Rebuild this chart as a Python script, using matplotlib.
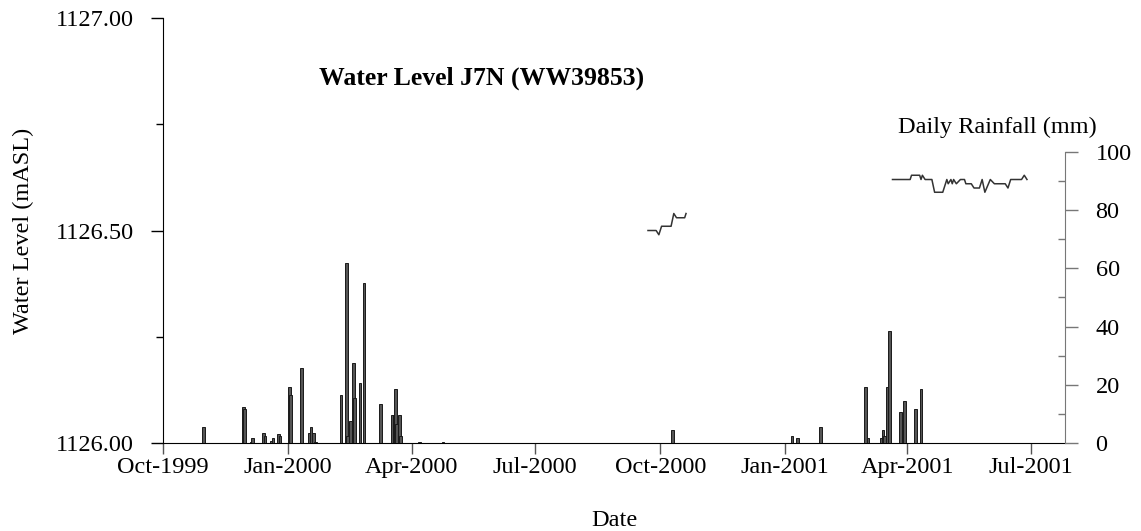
import pandas as pd
import matplotlib
matplotlib.use("Agg")
import matplotlib.pyplot as plt
import matplotlib.dates as mdates
from matplotlib.ticker import MultipleLocator

plt.rcParams["font.family"] = ["Liberation Serif", "DejaVu Serif"]

# Daily rainfall (mm)
rain_dates = ["1999-10-31", "1999-11-29", "1999-11-30", "1999-12-05", "1999-12-06",
              "1999-12-14", "1999-12-15", "1999-12-20", "1999-12-21", "1999-12-25",
              "1999-12-26", "2000-01-02", "2000-01-03", "2000-01-11", "2000-01-17",
              "2000-01-18", "2000-01-20", "2000-01-21", "2000-02-09", "2000-02-13",
              "2000-02-14", "2000-02-16", "2000-02-18", "2000-02-19", "2000-02-23",
              "2000-02-26", "2000-03-09", "2000-03-18", "2000-03-19", "2000-03-20",
              "2000-03-21", "2000-03-23", "2000-03-24", "2000-04-07", "2000-04-24",
              "2000-10-10", "2001-01-06", "2001-01-10", "2001-01-27", "2001-03-01",
              "2001-03-03", "2001-03-13", "2001-03-14", "2001-03-15", "2001-03-17",
              "2001-03-19", "2001-03-27", "2001-03-29", "2001-03-30", "2001-04-07",
              "2001-04-11"]
rain_mm = [5.6, 12.5, 11.6, 0.5, 1.7,
           3.6, 2.5, 0.8, 1.7, 3.1,
           2.5, 19.1, 16.5, 25.7, 3.6,
           5.4, 3.6, 0.5, 16.5, 61.7,
           2.5, 7.6, 27.6, 15.6, 20.5,
           54.9, 13.5, 9.6, 9.6, 18.6,
           6.4, 9.6, 2.5, 0.3, 0.3,
           4.5, 2.4, 1.6, 5.4, 19.4,
           1.6, 1.6, 4.5, 2.5, 19.4,
           38.6, 10.5, 4.5, 14.5, 11.7,
           18.6]

# Water level (mASL), two logged periods
wl1_dates = ["2000-09-22", "2000-09-28", "2000-09-30", "2000-10-02", "2000-10-09",
             "2000-10-11", "2000-10-13", "2000-10-19", "2000-10-20"]
wl1_level = [1126.50, 1126.50, 1126.49, 1126.51, 1126.51,
             1126.54, 1126.53, 1126.53, 1126.54]

wl2_dates = ["2001-03-21", "2001-04-03", "2001-04-04", "2001-04-10", "2001-04-11",
             "2001-04-12", "2001-04-14", "2001-04-19", "2001-04-21", "2001-04-27",
             "2001-04-30", "2001-05-01", "2001-05-03", "2001-05-04", "2001-05-05",
             "2001-05-07", "2001-05-10", "2001-05-13", "2001-05-14", "2001-05-18",
             "2001-05-20", "2001-05-24", "2001-05-26", "2001-05-28", "2001-06-01",
             "2001-06-04", "2001-06-12", "2001-06-14", "2001-06-16", "2001-06-24",
             "2001-06-26", "2001-06-28"]
wl2_level = [1126.62, 1126.62, 1126.63, 1126.63, 1126.62,
             1126.63, 1126.62, 1126.62, 1126.59, 1126.59,
             1126.62, 1126.61, 1126.62, 1126.61, 1126.62,
             1126.61, 1126.62, 1126.62, 1126.61, 1126.61,
             1126.60, 1126.60, 1126.62, 1126.59, 1126.62,
             1126.61, 1126.61, 1126.60, 1126.62, 1126.62,
             1126.63, 1126.62]

rain = pd.DataFrame({"date": pd.to_datetime(rain_dates), "mm": rain_mm})

fig = plt.figure(figsize=(11.41, 5.31), dpi=100)
ax = fig.add_axes([0.1429, 0.1657, 0.7905, 0.8004])
ax2 = ax.twinx()

# water level
ax.plot(pd.to_datetime(wl1_dates), wl1_level, color="#333333", lw=1.1)
ax.plot(pd.to_datetime(wl2_dates), wl2_level, color="#333333", lw=1.1)

ax.set_ylim(1126.0, 1127.0)
ax.yaxis.set_major_locator(MultipleLocator(0.5))
ax.yaxis.set_minor_locator(MultipleLocator(0.25))
ax.yaxis.set_major_formatter(matplotlib.ticker.FormatStrFormatter("%.2f"))
ax.set_ylabel("Water Level (mASL)", fontsize=17.5, labelpad=16)
ax.set_xlabel("Date", fontsize=17.5)
ax.xaxis.set_label_coords(0.5, -0.158)

ax.set_xlim(pd.Timestamp("1999-10-01"), pd.Timestamp("2001-07-26"))
ax.xaxis.set_major_locator(mdates.MonthLocator(bymonth=[1, 4, 7, 10]))
ax.xaxis.set_major_formatter(mdates.DateFormatter("%b-%Y"))

ax.tick_params(axis="y", which="major", direction="out", length=9, width=1,
               labelsize=17.5, pad=12)
ax.tick_params(axis="y", which="minor", direction="out", length=5, width=1)
ax.tick_params(axis="x", which="major", direction="out", length=8, width=1,
               labelsize=17.5, pad=2, colors="#555555", labelcolor="black")

ax.spines["top"].set_visible(False)
ax.spines["right"].set_visible(False)

# rainfall bars
ax2.bar(rain["date"], rain["mm"], width=2.0, color="#555555",
        edgecolor="#1a1a1a", linewidth=0.7)
ax2.set_ylim(0, 146)
ax2.tick_params(axis="y", which="major", direction="out", length=9, width=1,
                labelsize=17.5, pad=13, colors="#777777", labelcolor="black")
ax2.tick_params(axis="y", which="minor", direction="in", length=5, width=1,
                colors="#777777")
ax2.set_yticks([0, 20, 40, 60, 80, 100])
ax2.set_yticks([10, 30, 50, 70, 90], minor=True)
ax2.spines["right"].set_bounds(0, 100)
ax2.spines["right"].set_color("#777777")
for s in ["top", "left", "bottom"]:
    ax2.spines[s].set_visible(False)

fig.text(0.4224, 0.853, "Water Level J7N (WW39853)", fontsize=18.5,
         fontweight="bold", ha="center", va="center")
fig.text(0.8738, 0.761, "Daily Rainfall (mm)", fontsize=17.5,
         ha="center", va="center")

fig.savefig("out.png", dpi=100)
